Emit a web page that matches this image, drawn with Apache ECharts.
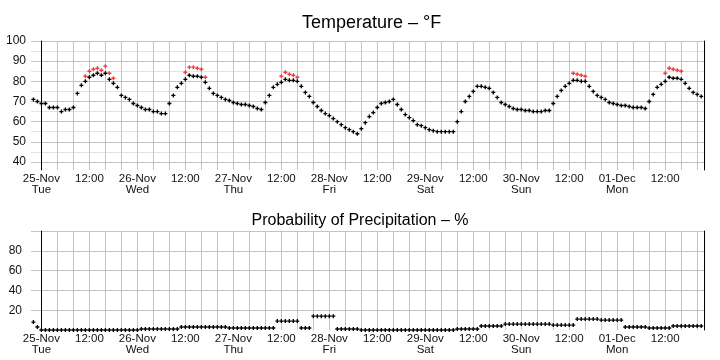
<!DOCTYPE html>
<html>
<head>
<meta charset="utf-8">
<script src="https://cdn.jsdelivr.net/npm/echarts@6/dist/echarts.min.js"></script>
<style>html,body{margin:0;padding:0;background:#fff}#c{width:720px;height:360px}</style>
</head>
<body>
<div id="c"></div>
<script>
// Hourly data, first value at 24-Nov 22:00 (hour -2 relative to 25-Nov 00:00)
const startHour = -2;
const temperature = [
  71,70,69,69,67,67,67,65,66,66,67,74,78,80,82,83,84,83,84,81,79,77,73,72,
  71,69,68,67,66,66,65,65,64,64,69,73,77,79,81,83,82.5,82.5,82,79.5,76.5,74,73,72,
  71,70.5,69.5,69,68.5,68.5,68,67.5,66.5,66,69.5,73,77,78.5,79.5,81,80.5,80.5,80,77.5,74.5,72.5,
  69.5,67.5,65.5,64,63,61.5,60,58.5,57,56,55,54,56.5,59.5,62.5,64.5,67,69,69.5,70,71,68.5,
  66,63.5,62,60.5,58.5,58,57,56,55.5,55,55,55,55,55,60,65,70,72.5,75,77.5,77.5,77,76.5,74.5,
  72,69.5,68.5,67.5,66.5,66,66,65.5,65.5,65,65,65,65.5,65.5,69,72.5,75.5,77.5,79,80.5,80.5,80,80,77.5,
  75,73,72,71,69.5,69,68.5,68,68,67.5,67,67,67,66.5,70,73.5,77,78.5,80,82,81.5,81.5,81,79,
  76.5,74.5,73.5,72.5
];
const heatHours = [11,12,13,14,15,16,17,18, 36,37,38,39,40,41, 60,61,62,63,64, 133,134,135,136, 156,157,158,159,160];
const heatValues = [82.5,85,86,86.5,85.5,87.5,84,81.5, 84.5,87,87,86.5,86,82, 82.5,84.5,83.5,83,82, 84,83.5,83,82.5, 84,86.5,86,85.5,85];
const precipitation = [
  8,3,
  0,0,0,0,0,0,0,0,0,0,0,0,0,0,0,0,0,0,0,0,0,0,0,0,0,
  1,1,1,1,1,1,1,1,1,1,
  3,3,3,3,3,3,3,3,3,3,3,3,
  2,2,2,2,2,2,2,2,2,2,2,2,
  9,9,9,9,9,9,
  2,2,2,
  14,14,14,14,14,14,
  1,1,1,1,1,1,
  0,0,0,0,0,0,0,0,0,0,0,0,0,0,0,0,0,0,0,0,0,0,0,0,
  1,1,1,1,1,1,
  4,4,4,4,4,4,
  6,6,6,6,6,6,6,6,6,6,6,6,
  5,5,5,5,5,5,
  11,11,11,11,11,11,
  10,10,10,10,10,10,
  3,3,3,3,3,3,
  2,2,2,2,2,2,
  4,4,4,4,4,4,4,4
];
const dayLabels = ['25-Nov','26-Nov','27-Nov','28-Nov','29-Nov','30-Nov','01-Dec'];
const dayNames  = ['Tue','Wed','Thu','Fri','Sat','Sun','Mon'];
const tempTicks = [40,45,50,55,60,65,70,75,80,85,90,95,100];
const tempLabels = [40,50,60,70,80,90,100];
const popTicks = [20,40,60,80,100];
const popLabels = [20,40,60,80];

const hours = temperature.map((_, i) => startHour + i);
const gridTicks = [];
for (let t = 0; t <= 164; t += 4) gridTicks.push(t);
const labelTicks = [];
for (let t = 0; t <= 156; t += 12) labelTicks.push(t);

const FONT = "'Liberation Sans Narrow','Arial Narrow','Liberation Sans',Arial,sans-serif";
const plus = 'path://M1,0H2V1H3V2H2V3H1V2H0V1H1Z';

function xAxisCfg(gi) {
  return {
    type: 'value', gridIndex: gi, min: -2.6, max: 165.7,
    axisLine: {show: false},
    axisTick: {show: false, customValues: gridTicks},
    splitLine: {show: true, lineStyle: {color: '#c4c4c4', width: 1}},
    axisLabel: {
      customValues: labelTicks, margin: 3, color: '#111',
      fontFamily: FONT, fontSize: 11.5, lineHeight: 11,
      formatter: v => {
        if (v % 24 === 0) { const d = v / 24; return dayLabels[d] + '\n' + dayNames[d]; }
        return '12:00';
      }
    }
  };
}

const chart = echarts.init(document.getElementById('c'), null, {renderer: 'canvas'});
chart.setOption({
  animation: false,
  backgroundColor: '#fff',
  title: [
    {text: 'Temperature – °F', left: 297, top: 8,
     textStyle: {fontFamily: "'Liberation Sans',Arial,sans-serif", fontSize: 18, fontWeight: 'normal', color: '#000', lineHeight: 20}},
    {text: 'Probability of Precipitation – %', left: 'center', top: 207,
     textStyle: {fontFamily: "'Liberation Sans',Arial,sans-serif", fontSize: 16, fontWeight: 'normal', color: '#000', lineHeight: 18}}
  ],
  grid: [
    {left: 31, right: 16, top: 41, height: 129},
    {left: 31, right: 16, top: 231, height: 99}
  ],
  xAxis: [xAxisCfg(0), xAxisCfg(1)],
  yAxis: [
    {type: 'value', gridIndex: 0, min: 36, max: 100,
     axisLine: {show: true, lineStyle: {color: '#000', width: 1}},
     axisTick: {show: false, customValues: tempTicks},
     splitLine: {show: true, lineStyle: {color: ['#c4c4c4', '#e4e4e4'], width: 1}},
     axisLabel: {customValues: tempLabels, margin: 5, color: '#111', fontFamily: FONT, fontSize: 12}},
    {type: 'value', gridIndex: 0, position: 'right', min: 36, max: 100,
     axisLine: {show: true, lineStyle: {color: '#000', width: 1}},
     axisTick: {show: false}, splitLine: {show: false}, axisLabel: {show: false}},
    {type: 'value', gridIndex: 1, min: 0, max: 100,
     axisLine: {show: true, lineStyle: {color: '#000', width: 1}},
     axisTick: {show: false, customValues: popTicks},
     splitLine: {show: true, lineStyle: {color: '#c4c4c4', width: 1}},
     axisLabel: {customValues: popLabels, margin: 9, color: '#111', fontFamily: FONT, fontSize: 12}},
    {type: 'value', gridIndex: 1, position: 'right', min: 0, max: 100,
     axisLine: {show: true, lineStyle: {color: '#000', width: 1}},
     axisTick: {show: false}, splitLine: {show: false}, axisLabel: {show: false}}
  ],
  series: [
    {type: 'scatter', xAxisIndex: 0, yAxisIndex: 0, symbol: plus, symbolSize: 4, silent: true,
     itemStyle: {color: '#000', opacity: 1},
     data: hours.map((h, i) => [h, temperature[i]])},
    {type: 'scatter', xAxisIndex: 0, yAxisIndex: 0, symbol: plus, symbolSize: 4, silent: true,
     itemStyle: {color: '#f23c3c', opacity: 1},
     data: heatHours.map((h, i) => [h, heatValues[i]])},
    {type: 'scatter', xAxisIndex: 1, yAxisIndex: 2, symbol: plus, symbolSize: 4, silent: true,
     itemStyle: {color: '#000', opacity: 1},
     data: hours.map((h, i) => [h, precipitation[i]])}
  ]
});
</script>
</body>
</html>
